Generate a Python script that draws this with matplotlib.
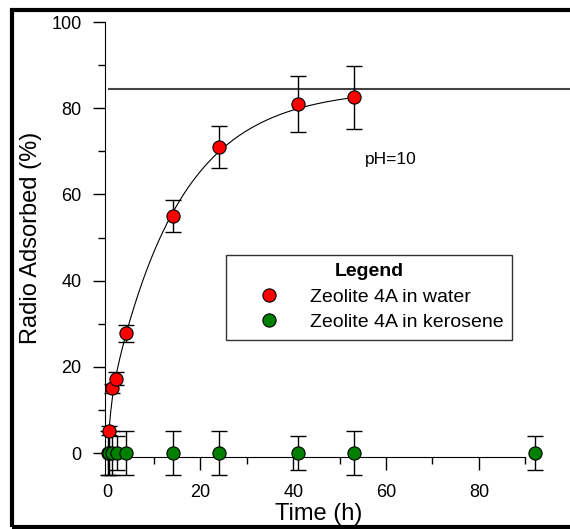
import numpy as np
import matplotlib
matplotlib.use('Agg')
import matplotlib.pyplot as plt
from matplotlib.patches import Rectangle

plt.rcParams['font.family'] = ['Liberation Sans', 'DejaVu Sans']

# Zeolita 4A en agua
t_agua = [0.35, 0.95, 1.9, 4.0, 14.0, 24.0, 41.0, 53.0]
y_agua = [5.2, 15.0, 17.2, 27.8, 55.0, 71.0, 81.0, 82.5]
e_agua = [1.0, 1.0, 1.5, 2.0, 3.8, 4.9, 6.4, 7.3]

# Zeolita 4A en queroseno
t_ker = [0.0, 0.35, 1.0, 2.0, 4.0, 14.0, 24.0, 41.0, 53.0, 92.0]
y_ker = [0.0, 0.0, 0.0, 0.0, 0.0, 0.0, 0.0, 0.0, 0.0, 0.0]
e_ker = [5.0, 5.0, 5.0, 4.0, 5.0, 5.0, 5.0, 4.0, 5.0, 4.0]

# curva de ajuste (doble exponencial) y meseta
meseta = 84.5
c1, k1 = 10.0, 1.5
c2, k2 = 74.5, 0.068

fig = plt.figure(figsize=(5.70, 5.29), dpi=100)
ax = fig.add_axes([0.1807, 0.0947, 0.7816, 0.8718])

# marco exterior
fig.patches.append(Rectangle((11.5/570, 2/529), 1.0, 1 - 11.5/529, transform=fig.transFigure,
                             fill=False, edgecolor='black', linewidth=3, clip_on=False))

xf = np.linspace(0.3, 53, 300)
yf = meseta - c1*np.exp(-k1*xf) - c2*np.exp(-k2*xf)
ax.plot(xf, yf, color='black', lw=0.8, zorder=2)
ax.plot([0.3, 110], [meseta, meseta], color='#444444', lw=1.5, clip_on=False, zorder=2)

ax.errorbar(t_agua, y_agua, yerr=e_agua, fmt='none', ecolor='black', elinewidth=1,
            capsize=6, capthick=1, clip_on=False, zorder=3)
ax.errorbar(t_ker, y_ker, yerr=e_ker, fmt='none', ecolor='black', elinewidth=1,
            capsize=6, capthick=1, clip_on=False, zorder=3)
ax.plot(t_agua, y_agua, 'o', ms=9.5, mfc='red', mec='black', mew=0.8,
        clip_on=False, zorder=4, label='Zeolite 4A in water')
ax.plot(t_ker, y_ker, 'o', ms=9.5, mfc='green', mec='black', mew=0.8,
        clip_on=False, zorder=4, label='Zeolite 4A in kerosene')

ax.text(55.5, 68, 'pH=10', fontsize=12.5, ha='left', va='center')

ax.set_xlim(-1, 95)
ax.set_ylim(-6, 101)
ax.spines['top'].set_visible(False)
ax.spines['right'].set_visible(False)
ax.spines['left'].set_position(('data', -0.5))
ax.spines['left'].set_bounds(-5, 100)
ax.spines['bottom'].set_position(('data', -1))
ax.spines['bottom'].set_bounds(-0.5, 90)
ax.set_xticks([0, 20, 40, 60, 80])
ax.set_xticks([10, 30, 50, 70, 90], minor=True)
ax.set_yticks([0, 20, 40, 60, 80, 100])
ax.set_yticks([10, 30, 50, 70, 90], minor=True)
ax.tick_params(which='major', length=9, width=1, labelsize=13, direction='out')
ax.tick_params(axis='x', which='major', pad=10)
ax.tick_params(axis='y', which='major', pad=8)
ax.tick_params(which='minor', length=5, width=1, direction='out')
ax.set_xlabel('Time (h)', fontsize=17)
ax.set_ylabel('Radio Adsorbed (%)', fontsize=17)
ax.xaxis.set_label_coords(0.484, -0.052)
ax.yaxis.set_label_coords(-0.137, 0.5234)

leg = ax.legend(loc='upper left', bbox_to_anchor=(226/570, 1 - 254.7/529),
                bbox_transform=fig.transFigure, title='Legend',
                title_fontproperties={'weight': 'bold', 'size': 14}, fontsize=14,
                frameon=True, fancybox=False, shadow=False, borderpad=0.45,
                handlelength=3.5, handletextpad=0.35, labelspacing=0.4,
                borderaxespad=0, numpoints=1, markerscale=1.0)
leg.get_frame().set_edgecolor('black')
leg.get_frame().set_linewidth(1)

fig.savefig('out.png', dpi=100)
